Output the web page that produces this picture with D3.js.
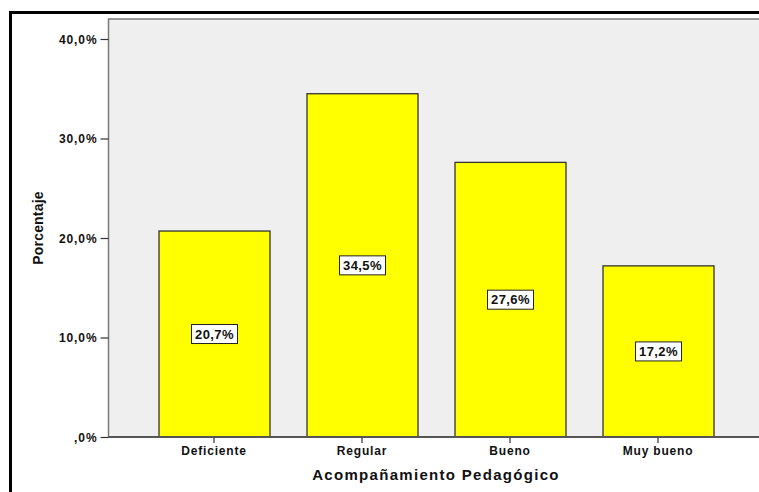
<!DOCTYPE html>
<html><head><meta charset="utf-8">
<script src="https://cdn.jsdelivr.net/npm/d3@7"></script>
<style>
html,body{margin:0;padding:0;background:#fff;}
svg{display:block;}
text{font-family:"Liberation Sans",Arial,sans-serif;font-weight:bold;fill:#111;}
</style></head>
<body>
<svg id="chart" width="759" height="492"></svg>
<script>
const categories = ["Deficiente", "Regular", "Bueno", "Muy bueno"];
const values = [20.7, 34.5, 27.6, 17.2];
const valueLabels = ["20,7%", "34,5%", "27,6%", "17,2%"];
const yTicks = [0, 10, 20, 30, 40];
const yTickLabels = [",0%", "10,0%", "20,0%", "30,0%", "40,0%"];
const xTitle = "Acompañamiento Pedagógico";
const yTitle = "Porcentaje";

const svg = d3.select("#chart");
const plot = {left: 108.5, top: 19, right: 765, bottom: 437};

// outer frame
svg.append("rect").attr("x", 10.5).attr("y", 12.5).attr("width", 800).attr("height", 600)
  .attr("fill", "none").attr("stroke", "#000").attr("stroke-width", 3);

// plot background
svg.append("rect").attr("x", plot.left).attr("y", plot.top)
  .attr("width", plot.right - plot.left).attr("height", plot.bottom - plot.top)
  .attr("fill", "#efefef").attr("stroke", "#7a7a7a").attr("stroke-width", 1.5);

const y = d3.scaleLinear().domain([0, 40]).range([plot.bottom, 39]);
const x = d3.scaleBand().domain(categories).range([140, 732]).paddingInner(0.25).paddingOuter(0.125);

// bars
svg.append("g").selectAll("rect").data(values).join("rect")
  .attr("x", (d, i) => x(categories[i]) + 0.5)
  .attr("y", d => y(d))
  .attr("width", x.bandwidth())
  .attr("height", d => plot.bottom - y(d))
  .attr("fill", "#ffff00").attr("stroke", "#333").attr("stroke-width", 1.3);

// y axis
const yAxis = d3.axisLeft(y).tickValues(yTicks).tickSize(8).tickPadding(3)
  .tickFormat((d, i) => yTickLabels[i]);
const gy = svg.append("g").attr("transform", `translate(${plot.left},0)`).call(yAxis);
gy.select(".domain").remove();
gy.selectAll(".tick line").attr("stroke", "#333").attr("stroke-width", 1.2);
gy.selectAll(".tick text").attr("font-size", 12).attr("letter-spacing", "0.9px")
  .attr("font-family", "'Liberation Sans',Arial,sans-serif").attr("font-weight", "bold").attr("fill", "#111")
  .attr("dy", "0.35em");

// x axis
const xAxis = d3.axisBottom(x).tickSize(6).tickPadding(3);
const gx = svg.append("g").attr("transform", `translate(0,${plot.bottom})`).call(xAxis);
gx.select(".domain").remove();
gx.selectAll(".tick line").attr("stroke", "#333").attr("stroke-width", 1.2);
gx.selectAll(".tick text").attr("font-size", 12).attr("letter-spacing", "0.8px")
  .attr("font-family", "'Liberation Sans',Arial,sans-serif").attr("font-weight", "bold").attr("fill", "#111");

// baseline
svg.append("line").attr("x1", plot.left).attr("x2", plot.right).attr("y1", plot.bottom).attr("y2", plot.bottom)
  .attr("stroke", "#555").attr("stroke-width", 2);

// value labels
const lg = svg.append("g").selectAll("g").data(values).join("g")
  .attr("transform", (d, i) => `translate(${x(categories[i]) + x.bandwidth() / 2 + 0.5},${(y(d) + plot.bottom) / 2})`);
lg.append("rect").attr("x", -23).attr("y", -9.5).attr("width", 46).attr("height", 19)
  .attr("fill", "#fff").attr("stroke", "#222").attr("stroke-width", 1);
lg.append("text").attr("text-anchor", "middle").attr("dy", "0.36em")
  .attr("font-size", 13).attr("letter-spacing", "0.4px")
  .text((d, i) => valueLabels[i]);

// axis titles
svg.append("text").attr("x", 436).attr("y", 480).attr("text-anchor", "middle")
  .attr("font-size", 15).attr("letter-spacing", "1.3px").text(xTitle);
svg.append("text").attr("transform", "translate(43,228) rotate(-90)").attr("text-anchor", "middle")
  .attr("font-size", 14).attr("letter-spacing", "0.2px").text(yTitle);
</script>
</body></html>
